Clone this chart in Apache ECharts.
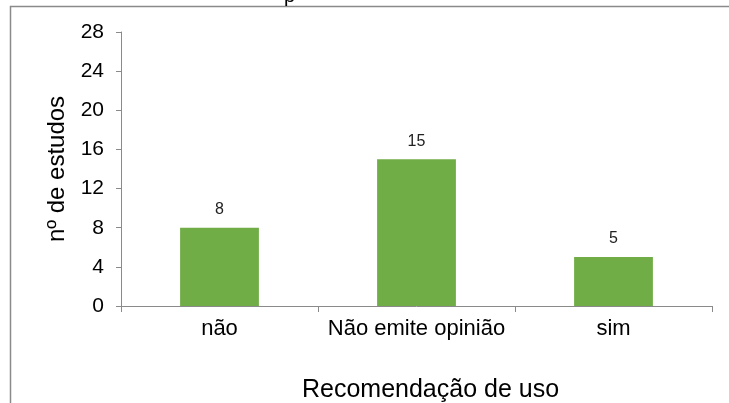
<!DOCTYPE html>
<html>
<head>
<meta charset="utf-8">
<script src="https://cdn.jsdelivr.net/npm/echarts@6/dist/echarts.min.js"></script>
<style>
  html, body { margin: 0; padding: 0; background: #fff; }
  #chart { width: 729px; height: 403px; }
</style>
</head>
<body>
<div id="chart"></div>
<script>
// Categories and counts of studies per usage recommendation
const categories = ['não', 'Não emite opinião', 'sim'];
const studyCounts = [8, 15, 5];
const yTicks = { min: 0, max: 28, interval: 4 };

const FONT = 'Liberation Sans, Arial, sans-serif';
const chart = echarts.init(document.getElementById('chart'), null, { renderer: 'canvas' });

chart.setOption({
  animation: false,
  backgroundColor: '#ffffff',
  grid: { left: 121, right: 17, top: 32, bottom: 97, containLabel: false, outerBoundsMode: 'none' },
  graphic: [
    // outer frame (left and top edges)
    {
      type: 'polyline',
      shape: { points: [[10.5, 403], [10.5, 6.5], [729, 6.5]] },
      style: { stroke: '#8a8a8a', lineWidth: 1.5, fill: null },
      silent: true
    },
    // descender of the clipped title
    {
      type: 'text',
      left: 284, top: -14,
      style: { text: 'p', font: '20px ' + FONT, fill: '#000' },
      silent: true
    }
  ],
  xAxis: {
    type: 'category',
    data: categories,
    boundaryGap: true,
    name: 'Recomendação de uso',
    nameLocation: 'middle',
    nameGap: 72,
    nameTextStyle: { fontFamily: FONT, fontSize: 25, color: '#000', padding: [0, 0, 0, 28] },
    axisLine: { show: true, lineStyle: { color: '#8a8a8a', width: 1 } },
    axisTick: { show: true, alignWithLabel: false, length: 6, lineStyle: { color: '#8a8a8a' } },
    axisLabel: { interval: 0, fontFamily: FONT, fontSize: 22, color: '#000', margin: 12 },
    splitLine: { show: false }
  },
  yAxis: {
    type: 'value',
    min: yTicks.min,
    max: yTicks.max,
    interval: yTicks.interval,
    name: 'nº de estudos',
    nameLocation: 'middle',
    nameGap: 49,
    nameRotate: 90,
    nameTextStyle: { fontFamily: FONT, fontSize: 24, color: '#000' },
    axisLine: { show: true, lineStyle: { color: '#8a8a8a', width: 1 } },
    axisTick: { show: true, inside: false, length: 5, lineStyle: { color: '#8a8a8a' } },
    axisLabel: { fontFamily: FONT, fontSize: 21, color: '#000', margin: 17 },
    splitLine: { show: false }
  },
  series: [{
    type: 'bar',
    data: studyCounts,
    barWidth: '40%',
    itemStyle: { color: '#70ad47' },
    label: {
      show: true,
      position: 'top',
      distance: 10,
      fontFamily: FONT,
      fontSize: 16,
      color: '#222'
    }
  }]
});
</script>
</body>
</html>
